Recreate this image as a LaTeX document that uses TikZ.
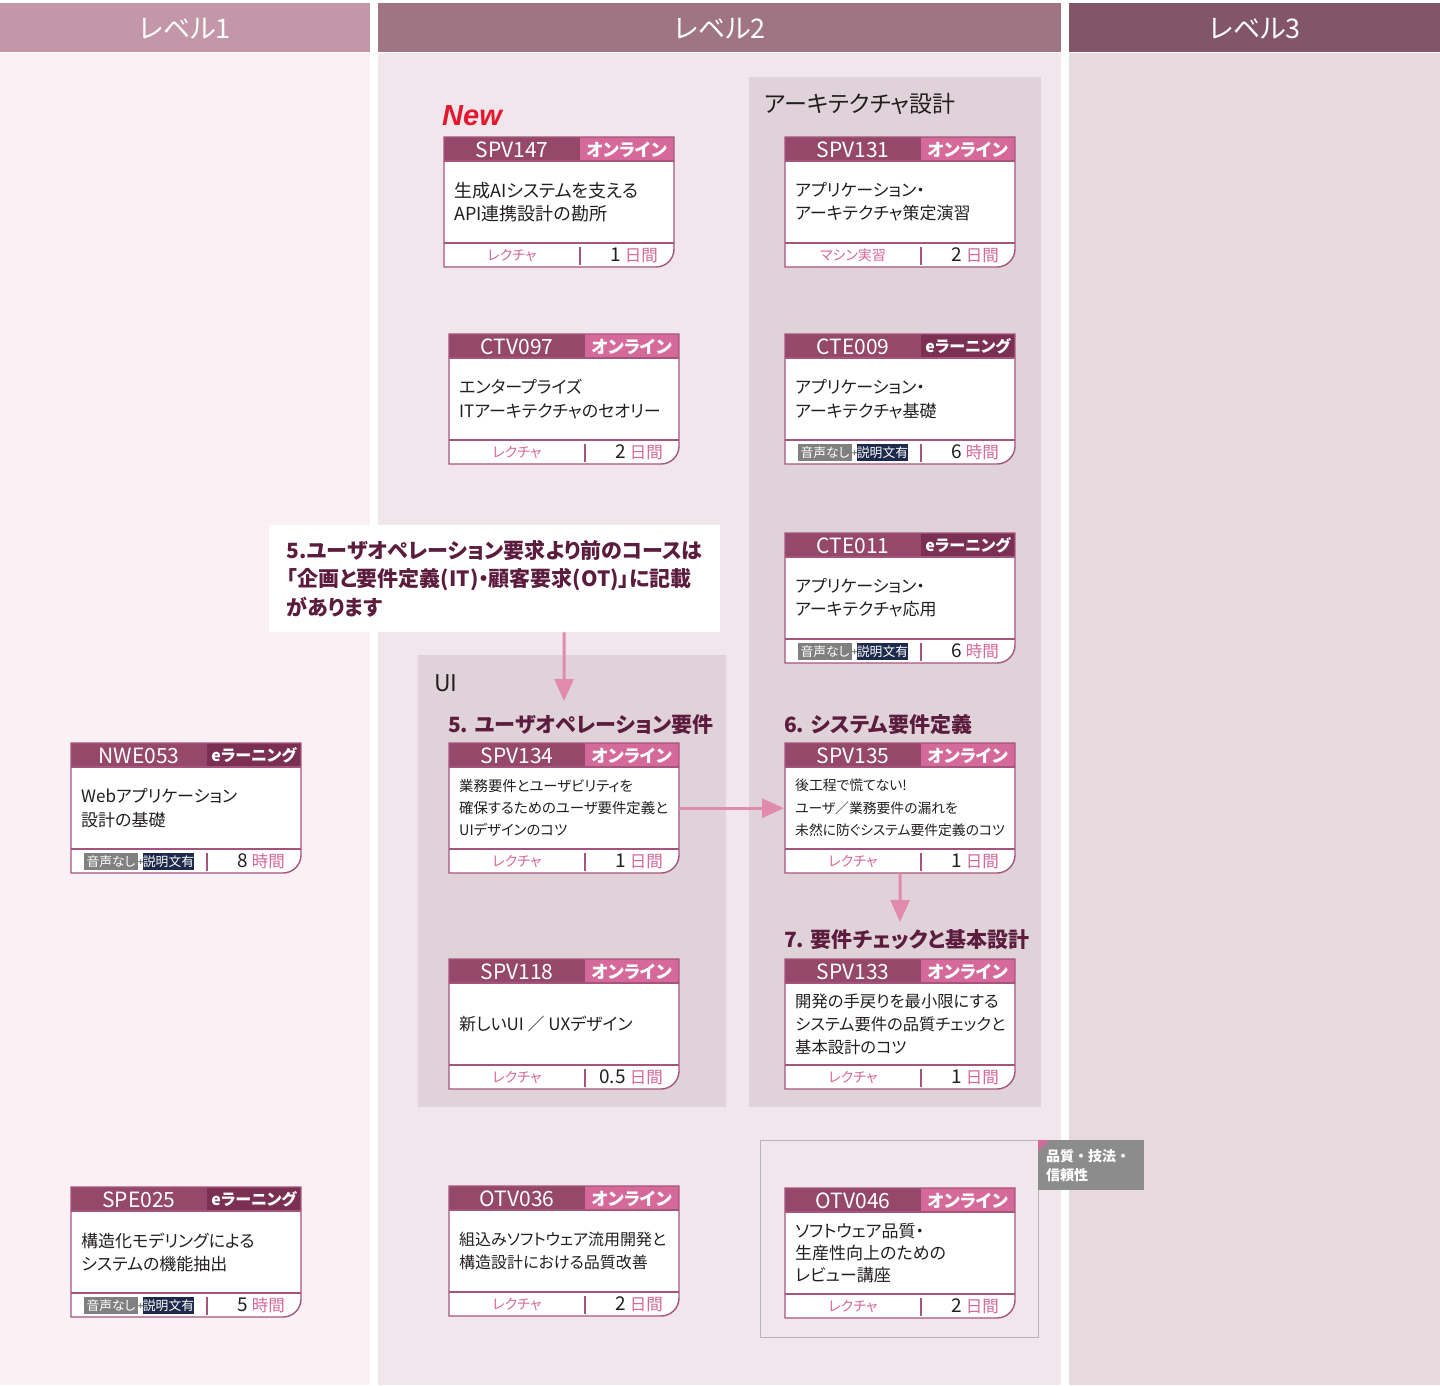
\documentclass[tikz,border=0pt]{standalone}
\usepackage{fontspec}
\setmainfont{Noto Sans CJK JP}[RawFeature=+palt]
\newfontfamily\jpfix{Noto Sans CJK JP}
\newfontfamily\newfnt{Liberation Sans}
\usetikzlibrary{arrows.meta,calc}

\definecolor{hdA}{HTML}{C497A8}
\definecolor{hdB}{HTML}{9F7583}
\definecolor{hdC}{HTML}{825568}
\definecolor{bgA}{HTML}{FBF1F5}
\definecolor{bgB}{HTML}{F1E6EC}
\definecolor{bgC}{HTML}{E6DADF}
\definecolor{grp}{HTML}{E0D2D9}
\definecolor{cardhd}{HTML}{96486B}
\definecolor{online}{HTML}{D4699A}
\definecolor{elearn}{HTML}{7A2F53}
\definecolor{cardln}{HTML}{A5557B}
\definecolor{pinktx}{HTML}{D4689A}
\definecolor{ttl}{HTML}{5C1C3E}
\definecolor{arr}{HTML}{E08BAE}
\definecolor{gbadge}{HTML}{808080}
\definecolor{nbadge}{HTML}{1E2A4C}
\definecolor{qgray}{HTML}{8C8C8C}
\definecolor{qline}{HTML}{B5B5B5}
\definecolor{newred}{HTML}{E2192E}
\definecolor{ink}{HTML}{231F20}

\newcommand\fs[2]{\fontsize{#1pt}{#2pt}\selectfont}

\tikzset{
  lvltxt/.style={text=white,font=\fs{27}{27}},
  codetxt/.style={text=white,font=\fs{21}{21},inner sep=0pt},
  onltxt/.style={text=white,font=\bfseries\fs{17.5}{17.5},inner sep=0pt},
  elrtxt/.style={text=white,font=\bfseries\fs{16}{16},inner sep=0pt},
  foottxt/.style={text=pinktx,font=\fs{14}{14},inner sep=0pt},
  smallbadge/.style={text=white,font=\fs{12.8}{12.8},inner sep=0pt},
  sectitle/.style={text=ttl,font=\bfseries\fs{21}{21},anchor=west,inner sep=0pt},
  grptitle/.style={text=ink,font=\fs{23}{23},anchor=west,inner sep=0pt},
  flow/.style={draw=arr,line width=3pt,-{Triangle[length=22pt,width=19pt]}},
}

% #1 name, #2 x, #3 y, #4 code, #5 type (o/e), #6 font, #7 body, #8 footer-left, #9 number
\newcommand\card[9]{%
\begin{scope}[shift={(#2,#3)}]
  \node[minimum width=230pt,minimum height=130pt,inner sep=0pt,anchor=north west] (#1) at (0,0) {};
  \fill[white] (0,0) -- (230,0) -- (230,112) arc[start angle=0,end angle=90,radius=18] -- (0,130) -- cycle;
  \fill[cardhd] (0,0) rectangle (136,24);
  \ifx e#5
    \fill[elearn] (136,0) rectangle (230,24);
    \node[elrtxt] at (183,12.5) {eラーニング};
    \fill[gbadge] (13,110) rectangle (67,127);
    \node[smallbadge] at (40,118.5) {音声なし};
    \node[text=gbadge,font=\bfseries\fs{9}{9},inner sep=0pt] at (69.5,119.5) {+};
    \fill[nbadge] (72,110) rectangle (123,127);
    \node[smallbadge] at (97.5,118.5) {説明文有};
    \def\unitx{時間}%
  \else
    \fill[online] (136,0) rectangle (230,24);
    \node[onltxt] at (183,12.5) {オンライン};
    \node[foottxt] at (68,118) {#8};
    \def\unitx{日間}%
  \fi
  \draw[cardln,line width=1.2pt] (0,106) -- (230,106);
  \draw[cardln,line width=1.2pt] (136,110) -- (136,128);
  \draw[cardln,line width=1.4pt] (0,0) -- (230,0) -- (230,112) arc[start angle=0,end angle=90,radius=18] -- (0,130) -- cycle;
  \draw[cardln,line width=1.2pt] (0,24) -- (230,24);
  \node[codetxt] at (68,12.5) {#4};
  \node[anchor=west,align=left,inner sep=0pt,text=ink,font=#6] at (10,65) {#7};
  \node[anchor=east,inner sep=0pt,text=ink] at (214,118) {\fs{19}{19}#9\hspace{4pt}\textcolor{pinktx}{\fs{16.5}{16.5}\unitx}};
\end{scope}}

\begin{document}
\begin{tikzpicture}[x=1pt,y=-1pt]
\useasboundingbox (0,0) rectangle (1440,1385);
\fill[white] (0,0) rectangle (1440,1385);

% columns
\fill[hdA] (0,3) rectangle (370,52);
\fill[bgA] (0,53) rectangle (370,1385);
\fill[hdB] (378,3) rectangle (1061,52);
\fill[bgB] (378,53) rectangle (1061,1385);
\fill[hdC] (1069,3) rectangle (1440,52);
\fill[bgC] (1069,53) rectangle (1440,1385);
\node[lvltxt] (lv1) at (185,29) {レベル1};
\node[lvltxt] (lv2) at (720,29) {レベル2};
\node[lvltxt] (lv3) at (1255,29) {レベル3};

% groups
\fill[grp] (749,77) rectangle (1041,1107);
\fill[grp] (418,655) rectangle (726,1107);
\node[grptitle] (garch) at (764,104) {アーキテクチャ設計};
\node[grptitle] (gui) at (434,683) {UI};

% quality box
\draw[qline,line width=1pt,fill=bgB] (760,1140) rectangle (1038,1337);
\node[fill=qgray,anchor=north west,minimum width=106pt,minimum height=50pt,inner sep=0pt] (qlabel) at (1038,1140) {};
\node[anchor=west,align=left,text=white,font=\jpfix\bfseries\fs{14}{19.5},inner sep=0pt] (qtext) at (1046,1165.5) {品質・技法・\\信頼性};
\fill[online] (1038,1140) -- (1049,1140) -- (1038,1151) -- cycle;

% New label
\node[anchor=west,inner sep=0pt,text=newred,font=\newfnt\bfseries\itshape\fs{29}{29}] (newlbl) at (442,116) {New};

% note
\node[fill=white,minimum width=451pt,minimum height=107pt,anchor=north west,align=left,
      text=ttl,font=\bfseries\fs{21}{28.5},inner sep=0pt] (note) at (269,525)
  {5.ユーザオペレーション要求より前のコースは\\「企画と要件定義(IT)・顧客要求(OT)」に記載\\があります};

% section titles
\node[sectitle] (h5) at (448,725) {5. ユーザオペレーション要件};
\node[sectitle] (h6) at (784,725) {6. システム要件定義};
\node[sectitle] (h7) at (784,940) {7. 要件チェックと基本設計};

% cards
\card{spv147}{444}{137}{SPV147}{o}{\fs{18}{23}}{生成AIシステムを支える\\API連携設計の勘所}{レクチャ}{1}
\card{ctv097}{449}{334}{CTV097}{o}{\fs{17}{24}}{エンタープライズ\\ITアーキテクチャのセオリー}{レクチャ}{2}
\card{spv131}{785}{137}{SPV131}{o}{\fs{17}{23}}{アプリケーション・\\アーキテクチャ策定演習}{マシン実習}{2}
\card{cte009}{785}{334}{CTE009}{e}{\fs{17}{24}}{アプリケーション・\\アーキテクチャ基礎}{}{6}
\card{cte011}{785}{533}{CTE011}{e}{\fs{17}{23}}{アプリケーション・\\アーキテクチャ応用}{}{6}
\card{nwe053}{71}{743}{NWE053}{e}{\fs{17}{24}}{Webアプリケーション\\設計の基礎}{}{8}
\card{spv134}{449}{743}{SPV134}{o}{\fs{14.4}{22}}{業務要件とユーザビリティを\\確保するためのユーザ要件定義と\\UIデザインのコツ}{レクチャ}{1}
\card{spv135}{785}{743}{SPV135}{o}{\fs{13.8}{22.5}}{後工程で慌てない!\\ユーザ／業務要件の漏れを\\未然に防ぐシステム要件定義のコツ}{レクチャ}{1}
\card{spv118}{449}{959}{SPV118}{o}{\fs{17}{23}}{新しいUI ／ UXデザイン}{レクチャ}{0.5}
\card{spv133}{785}{959}{SPV133}{o}{\fs{16.3}{23}}{開発の手戻りを最小限にする\\システム要件の品質チェックと\\基本設計のコツ}{レクチャ}{1}
\card{spe025}{71}{1187}{SPE025}{e}{\fs{17}{23}}{構造化モデリングによる\\システムの機能抽出}{}{5}
\card{otv036}{449}{1186}{OTV036}{o}{\fs{16}{23}}{組込みソフトウェア流用開発と\\構造設計における品質改善}{レクチャ}{2}
\card{otv046}{785}{1188}{OTV046}{o}{\fs{17}{22}}{ソフトウェア品質・\\生産性向上のための\\レビュー講座}{レクチャ}{2}

% connectors
\coordinate (a1end) at (564,701);
\coordinate (a3end) at (900,922);
\draw[flow] (note.south -| spv134.north) -- (a1end);
\draw[flow,shorten >=1pt] (spv134.east) -- (spv135.west);
\draw[flow] (spv135.south) -- (a3end);
\end{tikzpicture}
\end{document}
